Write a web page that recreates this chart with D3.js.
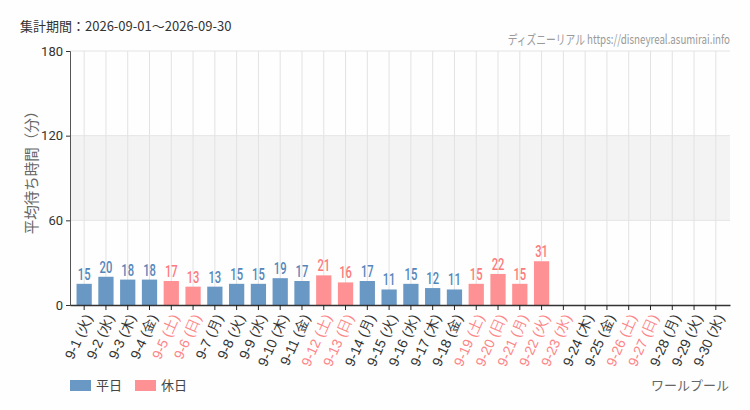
<!DOCTYPE html>
<html>
<head>
<meta charset="utf-8">
<script src="https://cdn.jsdelivr.net/npm/d3@7"></script>
<style>
  html, body { margin: 0; overflow: hidden; background: #fdfefd; }
  svg { display: block; font-family: "Noto Sans CJK JP", "Noto Sans", sans-serif; }
</style>
</head>
<body>
<div id="chart"></div>
<script>
const width = 750;
const height = 410;
const margin = { top: 51, right: 20, bottom: 105, left: 70 };
const innerWidth = width - margin.left - margin.right;
const innerHeight = height - margin.top - margin.bottom;

// data
const days = ["9-1","9-2","9-3","9-4","9-5","9-6","9-7","9-8","9-9","9-10",
              "9-11","9-12","9-13","9-14","9-15","9-16","9-17","9-18","9-19","9-20",
              "9-21","9-22","9-23","9-24","9-25","9-26","9-27","9-28","9-29","9-30"];
const weekdays = ["火","水","木","金","土","日","月","火","水","木",
                  "金","土","日","月","火","水","木","金","土","日",
                  "月","火","水","木","金","土","日","月","火","水"];
const holidays = ["9-5","9-6","9-12","9-13","9-19","9-20","9-21","9-22","9-23","9-26","9-27"];
const waits = [15,20,18,18,17,13,13,15,15,19,
               17,21,16,17,11,15,12,11,15,22,
               15,31,null,null,null,null,null,null,null,null];
const yTicks = [0, 60, 120, 180];

const data = days.map((d, i) => ({ day: d, wd: weekdays[i], value: waits[i], holiday: holidays.includes(d) }));

const barColor = { weekday: "#6998c4", holiday: "#fe9193" };
const textColor = { weekday: "#5586bb", holiday: "#fd7a7c" };

const svg = d3.select("#chart").append("svg")
    .attr("width", width)
    .attr("height", height);

const g = svg.append("g")
    .attr("transform", `translate(${margin.left},${margin.top})`);

const xScale = d3.scaleBand()
    .domain(days)
    .range([0, innerWidth])
    .padding(0.3);

const yScale = d3.scaleLinear()
    .domain([0, 180])
    .range([innerHeight, 0]);

// shaded band 60-120
g.append("rect")
    .attr("x", 0)
    .attr("y", yScale(120))
    .attr("width", innerWidth)
    .attr("height", yScale(60) - yScale(120))
    .attr("fill", "#f3f3f3");

// vertical grid
g.selectAll(".vgrid")
    .data(days)
    .enter()
    .append("line")
    .attr("class", "vgrid")
    .attr("x1", d => xScale(d) + xScale.bandwidth() / 2)
    .attr("x2", d => xScale(d) + xScale.bandwidth() / 2)
    .attr("y1", 0)
    .attr("y2", innerHeight)
    .attr("stroke", "#e2e2e2");

// horizontal grid
g.selectAll(".hgrid")
    .data(yTicks.slice(1))
    .enter()
    .append("line")
    .attr("class", "hgrid")
    .attr("x1", 0)
    .attr("x2", innerWidth)
    .attr("y1", d => yScale(d))
    .attr("y2", d => yScale(d))
    .attr("stroke", "#e4e4e4");

// bars
g.selectAll(".bar")
    .data(data.filter(d => d.value != null))
    .enter()
    .append("rect")
    .attr("class", "bar")
    .attr("x", d => xScale(d.day))
    .attr("y", d => yScale(d.value))
    .attr("width", xScale.bandwidth())
    .attr("height", d => innerHeight - yScale(d.value))
    .attr("fill", d => d.holiday ? barColor.holiday : barColor.weekday);

// value labels (squeezed to look like a condensed face)
g.selectAll(".val")
    .data(data.filter(d => d.value != null))
    .enter()
    .append("text")
    .attr("class", "val")
    .attr("transform", d => `translate(${xScale(d.day) + xScale.bandwidth() / 2},${yScale(d.value) - 4}) scale(0.68,1)`)
    .attr("text-anchor", "middle")
    .style("font-family", "Roboto, 'Noto Sans', sans-serif")
    .style("font-size", "16.5px")
    .style("font-weight", "500")
    .attr("fill", d => d.holiday ? textColor.holiday : textColor.weekday)
    .text(d => d.value);

// y axis
const yAxis = d3.axisLeft(yScale).tickValues(yTicks).tickSize(4).tickPadding(3);
const yG = g.append("g").call(yAxis);
yG.select(".domain").attr("stroke", "#555");
yG.selectAll(".tick line").attr("stroke", "#333");
yG.selectAll("text")
    .style("font-family", "Roboto, 'Noto Sans', sans-serif")
    .style("font-size", "13px")
    .attr("fill", "#333");

// x axis
const xAxis = d3.axisBottom(xScale).tickSize(5).tickSizeOuter(0).tickFormat(d => "");
const xG = g.append("g")
    .attr("transform", `translate(0,${innerHeight})`)
    .call(xAxis);
xG.select(".domain").attr("stroke", "#333").attr("stroke-width", 1.3);
xG.selectAll(".tick line").attr("stroke", "#222");
xG.selectAll(".tick text").remove();
xG.selectAll(".tick")
    .append("text")
    .attr("transform", "translate(4,10) rotate(-66)")
    .attr("text-anchor", "end")
    .attr("dy", "0.35em")
    .style("font-size", "14px")
    .attr("fill", d => holidays.includes(d) ? "#fd8587" : "#333")
    .text(d => d + " (" + weekdays[days.indexOf(d)] + ")");

// y axis label
svg.append("text")
    .attr("transform", "translate(32,169) rotate(-90)")
    .attr("text-anchor", "middle")
    .attr("dy", "0.35em")
    .style("font-size", "14.5px")
    .attr("fill", "#666")
    .text("平均待ち時間（分）");

// period title
svg.append("text")
    .attr("x", 20)
    .attr("y", 31)
    .style("font-size", "13px")
    .attr("fill", "#333")
    .text("集計期間：2026-09-01〜2026-09-30");

// credit
svg.append("text")
    .attr("transform", "translate(730,44) scale(0.75,1)")
    .attr("text-anchor", "end")
    .style("font-size", "13px")
    .attr("fill", "#9a9a9a")
    .text("ディズニーリアル https://disneyreal.asumirai.info");

// legend
const legend = [{ label: "平日", color: barColor.weekday }, { label: "休日", color: barColor.holiday }];
const lg = svg.selectAll(".legend")
    .data(legend)
    .enter()
    .append("g")
    .attr("class", "legend")
    .attr("transform", (d, i) => `translate(${70 + i * 65},380)`);
lg.append("rect")
    .attr("width", 21)
    .attr("height", 11)
    .attr("fill", d => d.color);
lg.append("text")
    .attr("x", 26)
    .attr("y", 10)
    .style("font-size", "13px")
    .attr("fill", "#444")
    .text(d => d.label);

// attraction name
svg.append("text")
    .attr("x", 729)
    .attr("y", 390)
    .attr("text-anchor", "end")
    .style("font-size", "13px")
    .attr("fill", "#666")
    .text("ワールプール");
</script>
</body>
</html>
